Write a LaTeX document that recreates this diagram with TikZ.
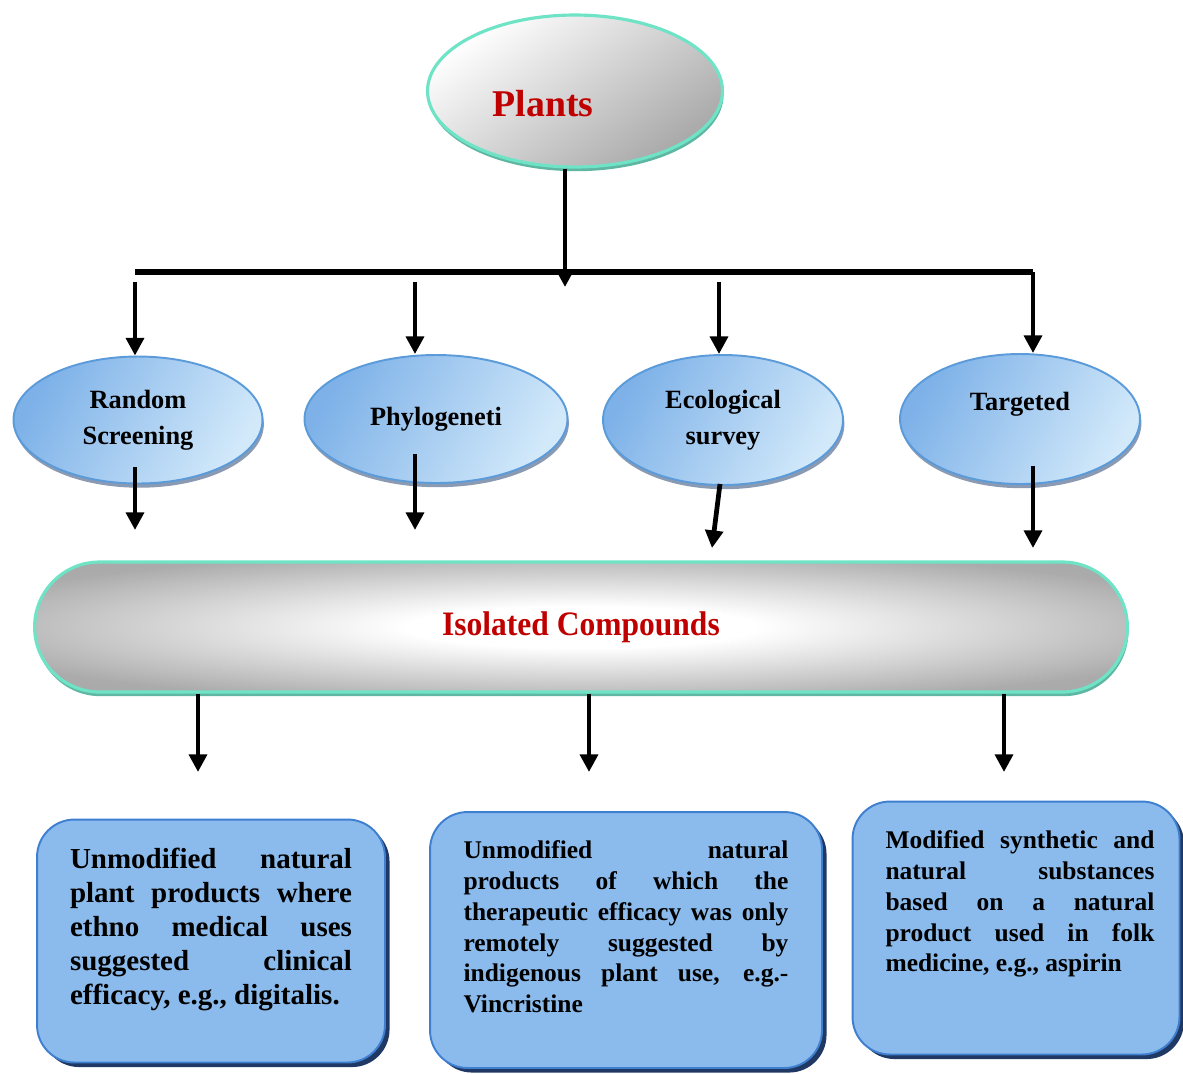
\documentclass[tikz,border=0pt]{standalone}
\usepackage{fontspec}
\setmainfont{Liberation Serif}
\usetikzlibrary{arrows.meta,shapes.geometric,shadows,calc,positioning}

\definecolor{aquarim}{HTML}{6FE3C6}
\definecolor{aquashadow}{HTML}{5FB7A3}
\definecolor{ovalrim}{HTML}{5B9BDA}
\definecolor{ovallight}{HTML}{D2E9FA}
\definecolor{ovaldark}{HTML}{7DB1E8}
\definecolor{ovalshadow}{HTML}{8A9AB2}
\definecolor{boxfill}{HTML}{8BBBEC}
\definecolor{boxrim}{HTML}{3F7FD0}
\definecolor{boxshadow}{HTML}{1F3864}
\definecolor{titlered}{HTML}{C00000}

\pgfdeclareradialshading{isoglow}{\pgfpoint{0bp}{0bp}}{color(0bp)=(white); color(8bp)=(white); color(30bp)=(gray!66); color(50bp)=(gray!74)}

\begin{document}
\begin{tikzpicture}[
  x=0.02cm, y=-0.02cm,
  grey/.style={draw=aquarim, line width=1.8pt,
    drop shadow={shadow xshift=0.6pt, shadow yshift=-2.4pt, fill=aquashadow, opacity=1}},
  oval/.style={ellipse, draw=ovalrim, line width=1.1pt,
    left color=ovaldark, right color=ovallight, shading angle=60,
    drop shadow={shadow xshift=0.8pt, shadow yshift=-2.4pt, fill=ovalshadow, opacity=1},
    inner sep=0pt, align=center, font=\fontsize{15}{20.4}\selectfont\bfseries},
  result/.style={draw=boxrim, fill=boxfill, line width=1.1pt, rounded corners=0.75cm,
    drop shadow={shadow xshift=2.6pt, shadow yshift=-2.6pt, fill=boxshadow, opacity=1},
    inner sep=0pt},
  resulttext/.style={anchor=north, inner sep=0pt, align=justify},
  title/.style={text=titlered, font=\fontsize{21.5}{24}\selectfont\bfseries},
  arr/.style={-{Triangle[width=10pt,length=10pt]}, line width=2.7pt},
  bar/.style={line width=3.2pt}
]
\useasboundingbox (0,0) rectangle (1183,1073);

\node[grey, ellipse, top color=white, bottom color=gray!68, shading angle=35,
  minimum width=5.9cm, minimum height=3.04cm] (plants) at (575,91) {};
\node[title] (plantsT) at (543,104) {Plants};

\coordinate (barL) at (135,272);
\coordinate (barR) at (1033,272);
\coordinate (barM) at (565,287);
\draw[bar] (barL) -- (barR);
\draw[arr] (plants.south -| barM) -- (barM);

\node[oval, minimum width=4.98cm, minimum height=2.54cm] (rand) at (138,420) {Random\\Screening};
\node[oval, minimum width=5.26cm, minimum height=2.56cm] (phylo) at (436,419) {Phylogeneti};
\node[oval, minimum width=4.8cm, minimum height=2.6cm] (eco) at (723,420) {Ecological\\survey};
\node[oval, minimum width=4.8cm, minimum height=2.6cm] (targ) at (1020,419) {Targeted\\~};

\draw[arr] (135,282) -- (135,282 |- rand.north);
\draw[arr] (415,282) -- (415,282 |- phylo.north);
\draw[arr] (719,282) -- (719,282 |- eco.north);
\draw[arr] (barR) -- (barR |- targ.north);

\node[grey, rounded corners=1.3cm, shading=isoglow, minimum width=21.86cm, minimum height=2.6cm,
  text=titlered, font=\fontsize{19.5}{22}\selectfont\bfseries] (iso) at (581,627)
  {\scalebox{0.92}[1]{Isolated Compounds}};

\coordinate (inA) at (135,530);
\coordinate (inB) at (415,530);
\coordinate (inC) at (712,548);
\coordinate (inD) at (1033,548);
\draw[arr] ($(rand.south)+(-3,-17)$) -- (inA);
\draw[arr] ($(phylo.south)+(-21,-30)$) -- (inB);
\draw[arr] ($(eco.south)+(-3,-2)$) -- (inC);
\draw[arr] ($(targ.south)+(13,-19)$) -- (inD);

% result boxes
\node[result, minimum width=6.96cm, minimum height=4.86cm] (res1) at (211,941) {};
\node[result, minimum width=7.84cm, minimum height=5.12cm] (res2) at (626,940) {};
\node[result, minimum width=6.54cm, minimum height=5.06cm] (res3) at (1016,928) {};

\node[resulttext, text width=5.64cm, font=\fontsize{16.5}{19.3}\selectfont\bfseries]
  (res1T) at (211,848)
  {Unmodified natural\linebreak plant products where\linebreak ethno medical uses\linebreak
   suggested clinical\linebreak efficacy, e.g., digitalis.};
\node[resulttext, text width=6.5cm, font=\fontsize{14.5}{17.6}\selectfont\bfseries]
  (res2T) at (626,840)
  {Unmodified natural\linebreak products of which the\linebreak therapeutic efficacy was only\linebreak
   remotely suggested by\linebreak indigenous plant use, e.g.-\linebreak Vincristine};
\node[resulttext, text width=5.38cm, font=\fontsize{14.5}{17.6}\selectfont\bfseries]
  (res3T) at (1020,830)
  {Modified synthetic and\linebreak natural substances\linebreak based on a natural\linebreak
   product used in folk\linebreak medicine, e.g., aspirin};

\coordinate (outA) at (198,772);
\coordinate (outB) at (589,772);
\coordinate (outC) at (1004,772);
\draw[arr] (iso.south -| outA) -- (outA);
\draw[arr] (iso.south -| outB) -- (outB);
\draw[arr] (iso.south -| outC) -- (outC);
\end{tikzpicture}
\end{document}
